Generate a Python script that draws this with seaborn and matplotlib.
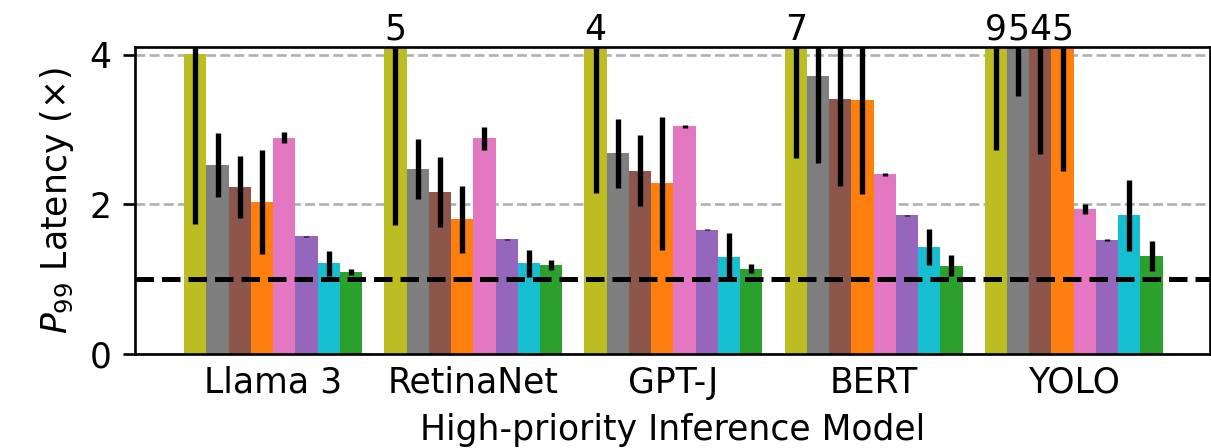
import numpy as np
import pandas as pd
import matplotlib
matplotlib.use("Agg")
import matplotlib.pyplot as plt
import seaborn as sns

# Inference models on the x axis
models = ["Llama 3", "RetinaNet", "GPT-J", "BERT", "YOLO"]
# Eight schemes shown as hue (no legend in the original figure)
methods = ["M1", "M2", "M3", "M4", "M5", "M6", "M7", "M8"]
colors = ["#bcbd22", "#7f7f7f", "#8c564b", "#ff7f0e",
          "#e377c2", "#9467bd", "#17becf", "#2ca02c"]

# P99 latency (normalised), one list per method, ordered like `models`
lat_m1 = [4.01, 5.0, 4.3, 7.0, 9.0]
lat_m2 = [2.52, 2.47, 2.68, 3.71, 5.0]
lat_m3 = [2.23, 2.16, 2.45, 3.40, 4.3]
lat_m4 = [2.03, 1.80, 2.28, 3.39, 5.0]
lat_m5 = [2.89, 2.88, 3.04, 2.40, 1.94]
lat_m6 = [1.57, 1.53, 1.66, 1.85, 1.52]
lat_m7 = [1.21, 1.21, 1.30, 1.43, 1.85]
lat_m8 = [1.10, 1.19, 1.14, 1.18, 1.31]

# symmetric error (std) per method
err_m1 = [2.27, 3.28, 2.15, 4.38, 6.28]
err_m2 = [0.43, 0.40, 0.46, 1.16, 1.55]
err_m3 = [0.42, 0.47, 0.47, 1.16, 1.63]
err_m4 = [0.70, 0.45, 0.89, 1.25, 2.56]
err_m5 = [0.07, 0.15, 0.02, 0.02, 0.065]
err_m6 = [0.01, 0.01, 0.01, 0.01, 0.01]
err_m7 = [0.17, 0.18, 0.31, 0.245, 0.475]
err_m8 = [0.04, 0.07, 0.06, 0.14, 0.20]

lat = [lat_m1, lat_m2, lat_m3, lat_m4, lat_m5, lat_m6, lat_m7, lat_m8]
err = [err_m1, err_m2, err_m3, err_m4, err_m5, err_m6, err_m7, err_m8]

y_top = 4.1
fs = 10.4

rows = []
for m, vals in zip(methods, lat):
    for model, v in zip(models, vals):
        rows.append({"model": model, "method": m, "latency": v})
df = pd.DataFrame(rows)

fig = plt.figure(figsize=(1211 / 240, 448 / 240), dpi=240)
ax = fig.add_axes([0.1115, 0.21, 0.8875, 0.685])

sns.barplot(data=df, x="model", y="latency", hue="method",
            order=models, hue_order=methods, palette=colors,
            saturation=1, width=8 / 9, errorbar=None, legend=False, ax=ax)

# error bars + value labels for bars running off the top
for cont, e_list, v_list in zip(ax.containers, err, lat):
    xs = [b.get_x() + b.get_width() / 2 for b in cont]
    ax.errorbar(xs, v_list, yerr=e_list, fmt="none", ecolor="black",
                elinewidth=1.6, capsize=0, zorder=3)
    for x, v in zip(xs, v_list):
        if v > y_top:
            ax.text(x, 4.2, f"{v:.0f}", ha="center", va="baseline",
                    fontsize=fs, clip_on=False)

ax.axhline(1, color="black", linestyle="--", linewidth=1.5, zorder=4)

ax.set_ylim(0, y_top)
ax.set_xlim(-0.69, 4.68)
ax.set_yticks([0, 2, 4])
ax.yaxis.grid(True, linestyle="--", color="#b0b0b0", linewidth=0.8)
ax.set_axisbelow(True)
ax.tick_params(axis="x", length=0, labelsize=fs)
ax.tick_params(axis="y", labelsize=fs)
ax.set_xlabel("High-priority Inference Model", fontsize=fs)
ax.set_ylabel("$P_{99}$ Latency (×)", fontsize=fs)

fig.savefig("out.png", dpi=240)
